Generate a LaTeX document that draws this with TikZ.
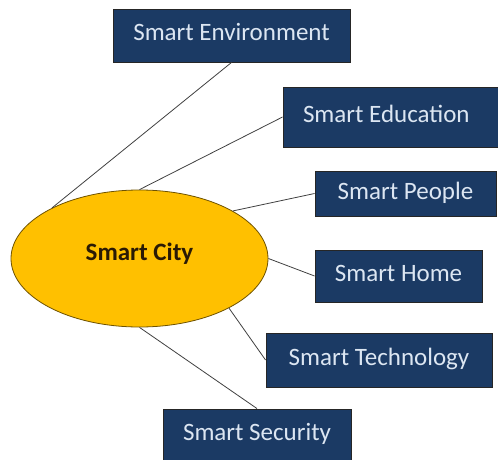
\documentclass[tikz,border=0pt]{standalone}
\usepackage{fontspec}
\setmainfont{Carlito}
\usetikzlibrary{shapes.geometric}
\definecolor{navy}{HTML}{1B3A64}
\definecolor{gold}{HTML}{FFC000}
\definecolor{goldedge}{HTML}{6E5200}
\definecolor{pale}{HTML}{DCE6F2}
\definecolor{wire}{HTML}{404040}
\definecolor{hubtext}{HTML}{2A1A05}
\begin{document}
\begin{tikzpicture}[x=1pt,y=-1pt,
  topic/.style={draw=black!85, line width=0.9pt, fill=navy, text=pale,
    font=\fontsize{25}{28}\selectfont, inner sep=0pt,
    text height=16pt, text depth=5pt},
  hub/.style={ellipse, draw=goldedge, line width=0.8pt, fill=gold,
    font=\fontsize{25}{28}\selectfont\bfseries, text=hubtext, inner sep=0pt,
    minimum width=257pt, minimum height=137pt,
    text height=16pt, text depth=13pt},
  link/.style={draw=wire, line width=0.8pt}]
\useasboundingbox (0,0) rectangle (498,460);
\clip (0,0) rectangle (498,460);

% central hub
\node[hub] (city) at (139.5,258.5) {Smart City};

% surrounding topics
\node[topic, minimum width=237pt, minimum height=53pt] (env) at (231.5,35.5) {Smart Environment};
\node[topic, minimum height=60pt, inner xsep=20pt] (edu) at (392.5,117) {\makebox[179pt][l]{Smart Education}};
\node[topic, minimum width=181pt, minimum height=45pt] (people) at (405.5,193.5) {Smart People};
\node[topic, minimum width=167pt, minimum height=52pt] (home) at (398.5,276) {Smart Home};
\node[topic, minimum width=226pt, minimum height=54pt] (tech) at (379,360) {Smart Technology};
\node[topic, minimum width=188pt, minimum height=52pt] (sec) at (257,435) {Smart Security};

% connectors
\draw[link] (city.150) -- (env.south);
\draw[link] (city.north) -- (edu.west);
\draw[link] (city.27) -- (people.west);
\draw[link] (city.east) -- (home.west);
\draw[link] (city.-29) -- (tech.west);
\draw[link] (city.south) -- (sec.north);
\end{tikzpicture}
\end{document}
